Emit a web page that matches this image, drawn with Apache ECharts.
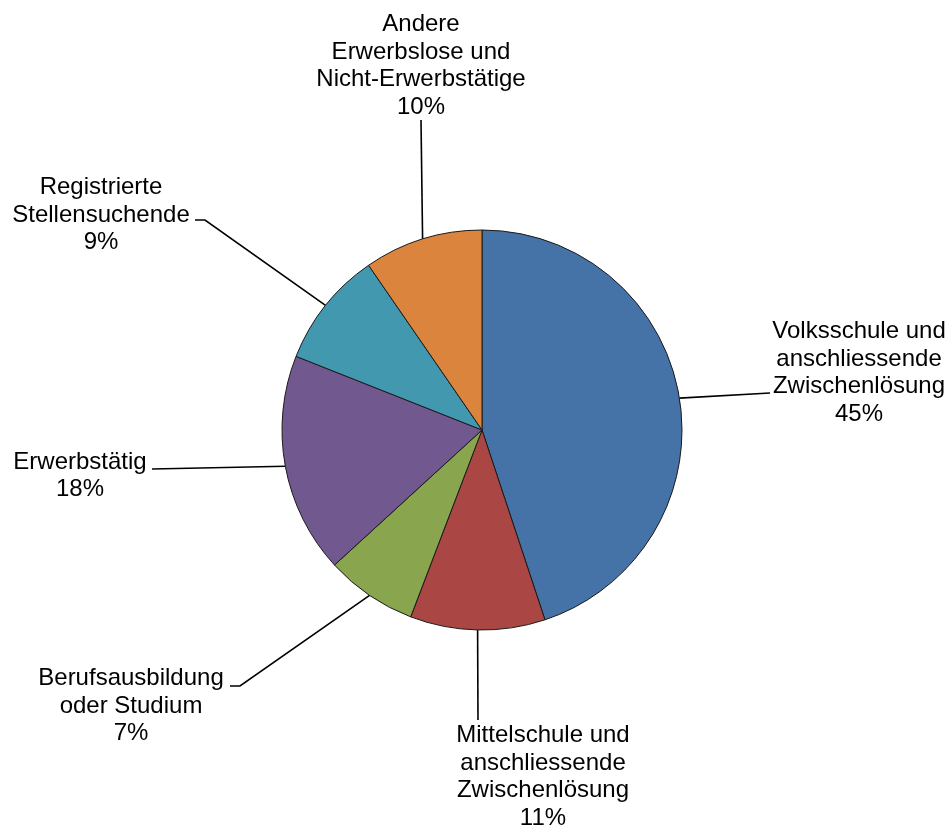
<!DOCTYPE html>
<html>
<head>
<meta charset="utf-8">
<script src="https://cdn.jsdelivr.net/npm/echarts@6/dist/echarts.min.js"></script>
<style>
html,body{margin:0;padding:0;background:#fff;}
#chart{width:951px;height:830px;}
</style>
</head>
<body>
<div id="chart"></div>
<script>
// Data
const categories = [
  "Volksschule und\nanschliessende\nZwischenlösung",
  "Mittelschule und\nanschliessende\nZwischenlösung",
  "Berufsausbildung\noder Studium",
  "Erwerbstätig",
  "Registrierte\nStellensuchende",
  "Andere\nErwerbslose und\nNicht-Erwerbstätige"
];
const values = [44.9, 10.9, 7.4, 17.8, 9.4, 9.6];
const colors = ["#4572A7", "#AA4643", "#89A54E", "#71588F", "#4198AF", "#DB843D"];

// Label layout (centre of each label block, and leader line bend points)
const labelCenters = [[859, 373], [543, 777], [131, 706], [80, 476], [101, 215], [421, 66]];
const labelBends = [
  [[770, 393]],
  [[478, 720]],
  [[240, 686], [230, 686]],
  [[152, 469]],
  [[205, 220], [195, 220]],
  [[421, 120]]
];

const chart = echarts.init(document.getElementById('chart'), null, {renderer: 'canvas'});
chart.setOption({
  animation: false,
  backgroundColor: '#fff',
  series: [{
    type: 'pie',
    center: [482, 430],
    radius: 200,
    startAngle: 90,
    clockwise: true,
    percentPrecision: 0,
    data: categories.map((c, i) => ({
      name: c, value: values[i],
      itemStyle: {color: colors[i]}
    })),
    itemStyle: {borderColor: '#1a1a1a', borderWidth: 1},
    emphasis: {disabled: true},
    label: {
      show: true,
      position: 'outside',
      formatter: '{b}\n{d}%',
      fontFamily: 'Liberation Sans, Arial, sans-serif',
      fontSize: 24,
      lineHeight: 27.5,
      color: '#000',
      align: 'center'
    },
    labelLine: {
      show: true,
      length: 20,
      length2: 20,
      lineStyle: {color: '#000', width: 1.6}
    },
    labelLayout: function (params) {
      const i = params.dataIndex;
      const c = labelCenters[i];
      const start = params.labelLinePoints ? params.labelLinePoints[0] : labelBends[i][0];
      const pts = [start].concat(labelBends[i]);
      if (pts.length === 2) pts.push(pts[1]);
      return {
        x: c[0], y: c[1],
        align: 'center', verticalAlign: 'middle',
        labelLinePoints: pts
      };
    }
  }]
});
</script>
</body>
</html>
